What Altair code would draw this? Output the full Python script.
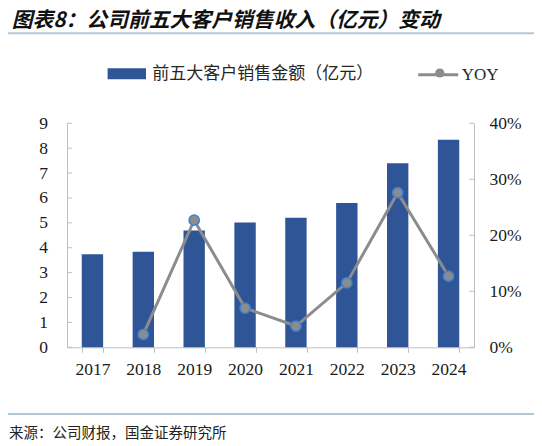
import pandas as pd
import altair as alt

# Data
years = ["2017", "2018", "2019", "2020", "2021", "2022", "2023", "2024"]
sales = [3.74, 3.84, 4.69, 5.01, 5.21, 5.80, 7.39, 8.34]  # 亿元
yoy = [None, 0.023, 0.227, 0.070, 0.038, 0.115, 0.276, 0.127]

bar_name = "前五大客户销售金额（亿元）"
line_name = "YOY"
title_text = "图表8：公司前五大客户销售收入（亿元）变动"
source_text = "来源：公司财报，国金证券研究所"

left_ticks = list(range(0, 10))
right_ticks = [0.0, 0.1, 0.2, 0.3, 0.4]

W, H = 407, 224
BAR_COLOR = "#2F5597"
LINE_COLOR = "#8C8C8C"
DOT_EDGE = "#3C82D8"
AXIS_COLOR = "#BFBFBF"
LABEL_FONT = "Liberation Serif"
CJK_FONT = "Noto Sans CJK SC"

df = pd.DataFrame({
    "year": years,
    "sales": sales,
    "yoy": yoy,
    "bname": bar_name,
    "lname": line_name,
    # the marker legend sits on top of the line legend; its own label is hidden
    "pname": line_name + " ",
})

x_enc = alt.X(
    "year:N",
    title=None,
    scale=alt.Scale(paddingInner=0.58, paddingOuter=0.29),
    axis=alt.Axis(
        labelAngle=0, tickBand="extent", tickSize=5, labelPadding=8,
        domainColor=AXIS_COLOR, tickColor=AXIS_COLOR,
        labelFont=LABEL_FONT, labelFontSize=17.5, labelColor="#1a1a1a",
    ),
)

y_left = alt.Y(
    "sales:Q",
    title=None,
    scale=alt.Scale(domain=[0, 9]),
    axis=alt.Axis(
        orient="left", values=left_ticks, ticks=False, labelPadding=19.5,
        domainColor=AXIS_COLOR, labelFont=LABEL_FONT, labelFontSize=17.5,
        labelColor="#1a1a1a",
    ),
)

y_right = alt.Y(
    "yoy:Q",
    title=None,
    scale=alt.Scale(domain=[0, 0.4]),
    axis=alt.Axis(
        orient="right", values=right_ticks, format=".0%", ticks=False,
        labelPadding=15, domainColor=AXIS_COLOR, labelFont=LABEL_FONT,
        labelFontSize=17.5, labelColor="#1a1a1a",
    ),
)

bars = alt.Chart(df).mark_bar().encode(
    x=x_enc,
    y=y_left,
    color=alt.Color(
        "bname:N",
        scale=alt.Scale(domain=[bar_name], range=[BAR_COLOR]),
        legend=alt.Legend(
            title=None, orient="none", legendX=40.3, legendY=-69,
            symbolType="M-1,-0.29H1V0.29H-1Z", symbolSize=1475,
            symbolStrokeWidth=0, labelFont=CJK_FONT, labelFontSize=17,
            labelColor="#262626", labelOffset=6, labelLimit=400,
        ),
    ),
)

# inward tick marks on the left axis
lt = alt.Chart(pd.DataFrame({"sales": left_ticks})).mark_rule(
    color=AXIS_COLOR
).encode(y=y_left, x=alt.value(0), x2=alt.value(5))

title_mark = alt.Chart(pd.DataFrame({"t": [title_text]})).mark_text(
    align="left", baseline="middle", font=CJK_FONT, fontSize=20.8,
    fontWeight="bold", fontStyle="italic", color="#111111",
).encode(text="t:N", x=alt.value(-55.3), y=alt.value(-102))

title_rule = alt.Chart(pd.DataFrame({"a": [0]})).mark_rule(
    color="#B4C8D6", strokeWidth=2
).encode(x=alt.value(-59), x2=alt.value(467), y=alt.value(-90))

foot_rule = alt.Chart(pd.DataFrame({"a": [0]})).mark_rule(
    color="#5E90B2", strokeWidth=1
).encode(x=alt.value(-59), x2=alt.value(467), y=alt.value(290.7))

source_mark = alt.Chart(pd.DataFrame({"t": [source_text]})).mark_text(
    align="left", baseline="middle", font=CJK_FONT, fontSize=14.5,
    color="#222222",
).encode(text="t:N", x=alt.value(-58), y=alt.value(310.5))

line = alt.Chart(df).mark_line(strokeWidth=3).encode(
    x=x_enc,
    y=y_right,
    stroke=alt.Stroke(
        "lname:N",
        scale=alt.Scale(domain=[line_name], range=[LINE_COLOR]),
        legend=alt.Legend(
            title=None, orient="none", legendX=349.7, legendY=-70,
            symbolType="M-1,0H1", symbolSize=1600, symbolStrokeWidth=3,
            labelFont=LABEL_FONT, labelFontSize=17, labelColor="#262626",
            labelOffset=2,
        ),
    ),
)

points = alt.Chart(df).mark_point(
    filled=True, fill=LINE_COLOR, stroke=DOT_EDGE, strokeWidth=1.5,
    size=105, opacity=1,
).encode(
    x=x_enc,
    y=y_right,
    shape=alt.Shape(
        "pname:N",
        scale=alt.Scale(domain=[line_name + " "], range=["circle"]),
        legend=alt.Legend(
            title=None, orient="none", legendX=364.3, legendY=-58.8,
            symbolSize=85, symbolStrokeWidth=1.5, symbolFillColor=LINE_COLOR,
            symbolStrokeColor=DOT_EDGE, labelExpr="''", labelFontSize=17,
        ),
    ),
)

# inward tick marks on the right axis
rt = alt.Chart(pd.DataFrame({"yoy": right_ticks})).mark_rule(
    color=AXIS_COLOR
).encode(y=y_right, x=alt.value(W - 5), x2=alt.value(W))

left = alt.layer(bars, lt, title_rule, foot_rule, title_mark, source_mark)
right = alt.layer(line, points, rt)

chart = alt.layer(left, right).resolve_scale(
    y="independent"
).properties(
    width=W,
    height=H,
    autosize=alt.AutoSizeParams(type="none"),
    padding={"left": 59, "top": 115.3, "right": 60, "bottom": 95.7},
).configure_view(
    stroke=None
).configure_axis(
    grid=False
)

chart.save("out.html", embed_options={"renderer": "svg", "actions": False})
